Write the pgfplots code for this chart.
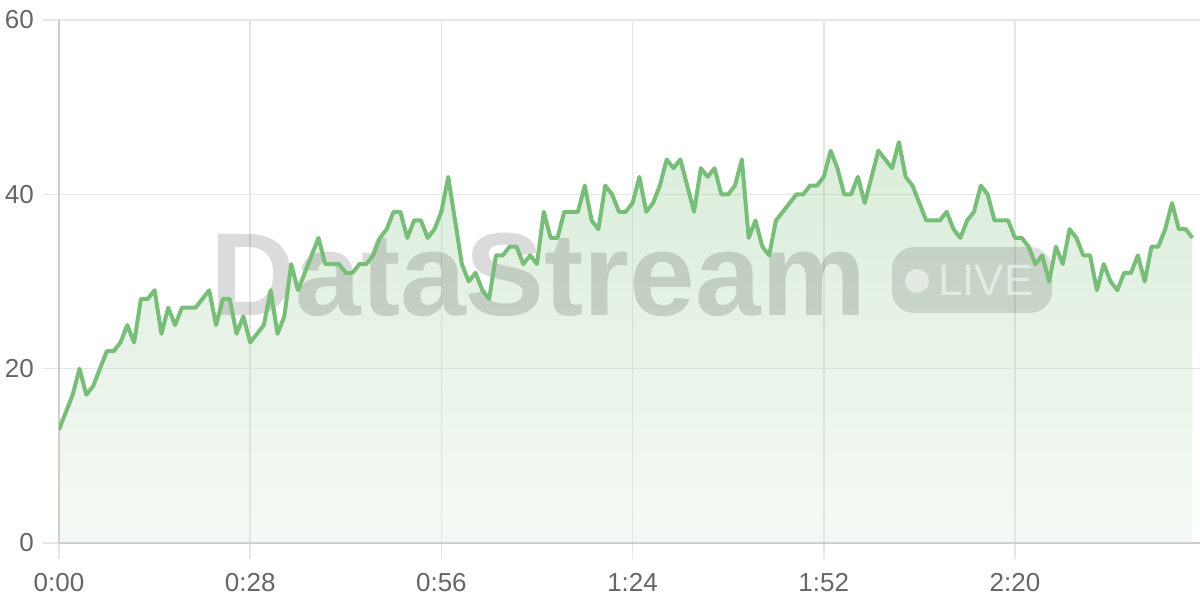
\documentclass[border=0pt]{standalone}
\usepackage{fontspec}
\setmainfont{Liberation Sans}
\usepackage{pgfplots}
\usepackage{pgfplotstable}
\pgfplotsset{compat=1.18}

\definecolor{linegreen}{RGB}{120,190,120}
\definecolor{fillbottom}{RGB}{222,236,222}
\definecolor{gridgray}{RGB}{230,230,230}
\definecolor{axisgray}{RGB}{205,205,205}
\definecolor{labelgray}{RGB}{102,102,102}

% value per second
\pgfplotstableread{
t v
0 13
1 15
2 17
3 20
4 17
5 18
6 20
7 22
8 22
9 23
10 25
11 23
12 28
13 28
14 29
15 24
16 27
17 25
18 27
19 27
20 27
21 28
22 29
23 25
24 28
25 28
26 24
27 26
28 23
29 24
30 25
31 29
32 24
33 26
34 32
35 29
36 31
37 33
38 35
39 32
40 32
41 32
42 31
43 31
44 32
45 32
46 33
47 35
48 36
49 38
50 38
51 35
52 37
53 37
54 35
55 36
56 38
57 42
58 37
59 32
60 30
61 31
62 29
63 28
64 33
65 33
66 34
67 34
68 32
69 33
70 32
71 38
72 35
73 35
74 38
75 38
76 38
77 41
78 37
79 36
80 41
81 40
82 38
83 38
84 39
85 42
86 38
87 39
88 41
89 44
90 43
91 44
92 41
93 38
94 43
95 42
96 43
97 40
98 40
99 41
100 44
101 35
102 37
103 34
104 33
105 37
106 38
107 39
108 40
109 40
110 41
111 41
112 42
113 45
114 43
115 40
116 40
117 42
118 39
119 42
120 45
121 44
122 43
123 46
124 42
125 41
126 39
127 37
128 37
129 37
130 38
131 36
132 35
133 37
134 38
135 41
136 40
137 37
138 37
139 37
140 35
141 35
142 34
143 32
144 33
145 30
146 34
147 32
148 36
149 35
150 33
151 33
152 29
153 32
154 30
155 29
156 31
157 31
158 33
159 30
160 34
161 34
162 36
163 39
164 36
165 36
166 35
}\speed

\pgfplotsset{
  base/.style={
    scale only axis,
    width=1141bp, height=523bp,
    at={(59bp,57bp)}, anchor=south west,
    xmin=0, xmax=167.1,
    ymin=0, ymax=60,
  },
}

\begin{document}
\begin{tikzpicture}
  \path[use as bounding box, fill=white] (0,0) rectangle (1200bp,600bp);

  \begin{axis}[
      base,
      axis x line*=bottom,
      axis y line*=left,
      x axis line style={-, draw=axisgray, line width=2.5bp},
      y axis line style={-, draw=axisgray, line width=2bp},
      xtick={0,28,56,84,112,140},
      xticklabels={0:00,0:28,0:56,1:24,1:52,2:20},
      ytick={0,20,40,60},
      grid=major,
      major grid style={draw=gridgray, line width=1.5bp},
      xtick align=outside,
      ytick align=outside,
      major tick length=16bp,
      every tick/.append style={draw=gridgray, line width=1.5bp},
      xtick style={draw=gridgray, line width=1.5bp},
      ytick style={draw=gridgray, line width=1.5bp},
      tick label style={font=\fontsize{26bp}{30bp}\selectfont, text=labelgray},
      xticklabel style={inner sep=0pt, anchor=north, yshift=-14bp},
      yticklabel style={inner sep=0pt, anchor=east, xshift=-9bp},
      /pgf/number format/assume math mode=true,
    ]
    \addplot[draw=none, fill opacity=0.27, top color=linegreen, bottom color=fillbottom]
      table[x=t, y=v] {\speed} \closedcycle;
  \end{axis}

  % watermark
  \node[anchor=base west, inner sep=0pt, text=black, opacity=0.14,
        font=\fontsize{118bp}{118bp}\selectfont\bfseries] at (210bp,284bp) {DataStream};
  \fill[black, opacity=0.12, rounded corners=22bp] (892bp,287bp) rectangle (1052bp,353bp);
  \fill[white, opacity=0.5] (917bp,319bp) circle (12bp);
  \node[anchor=base west, inner sep=0pt, text=white, opacity=0.5,
        font=\fontsize{44bp}{44bp}\selectfont] at (938bp,304bp) {LIVE};

  \begin{axis}[base, hide axis]
    \addplot[linegreen, line width=4bp, line join=round]
      table[x=t, y=v] {\speed};
  \end{axis}
\end{tikzpicture}
\end{document}
